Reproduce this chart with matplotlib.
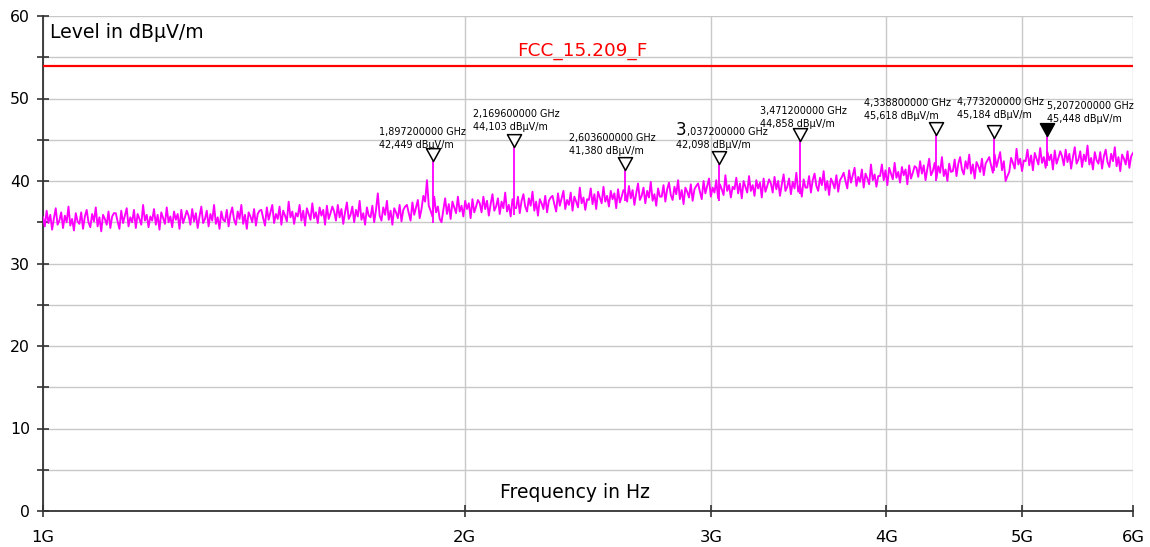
import numpy as np
import matplotlib
matplotlib.use("Agg")
import matplotlib.pyplot as plt
from matplotlib.path import Path
from matplotlib.ticker import FixedLocator, NullLocator, FixedFormatter

plt.rcParams['font.family'] = ['DejaVu Sans']

# ---------------- data ----------------
limit_name = "FCC_15.209_F"
limit_level = 54.0

x_ticks_hz = [1e9, 2e9, 3e9, 4e9, 5e9, 6e9]
x_tick_labels = ["1G", "2G", "3G", "4G", "5G", "6G"]
y_major = [0, 10, 20, 30, 40, 50, 60]
y_minor = [5, 15, 25, 35, 45, 55]

marker_freq_ghz = [1.8972, 2.1696, 2.6036, 3.0372, 3.4712, 4.3388, 4.7732, 5.2072]
marker_level = [42.449, 44.103, 41.380, 42.098, 44.858, 45.618, 45.184, 45.448]
marker_filled = [False, False, False, False, False, False, False, True]

# measured trace (dBuV/m), sweep points evenly spaced on the log frequency axis 1 GHz .. 6 GHz
trace_level = [
    35.6, 34.5, 36.4, 34.9, 35.9, 34.1, 35.5, 36.7, 34.7, 35.2, 36.2, 34.3, 35.8, 35.0, 36.9, 34.6, 35.4, 34.0, 36.1, 35.1,
    34.8, 36.2, 34.2, 35.7, 36.5, 35.0, 34.4, 36.0, 35.1, 36.8, 34.5, 35.6, 33.9, 35.9, 35.4, 34.7, 36.3, 34.3, 35.7, 36.1,
    36.1, 35.1, 34.2, 36.4, 34.9, 35.8, 36.7, 34.5, 35.6, 35.0, 36.5, 34.3, 36.0, 35.4, 34.7, 37.1, 35.2, 35.9, 34.4, 35.7,
    35.2, 36.6, 34.7, 35.9, 34.1, 36.2, 35.5, 34.8, 36.8, 35.0, 35.7, 34.4, 36.3, 35.3, 36.0, 34.2, 36.5, 34.9, 35.6, 36.4,
    35.8, 34.7, 36.6, 35.1, 36.1, 34.3, 35.7, 36.9, 34.9, 35.4, 36.4, 34.5, 36.0, 35.2, 37.1, 34.8, 35.6, 34.2, 36.3, 35.3,
    35.1, 36.5, 34.5, 36.0, 36.8, 35.3, 34.7, 36.3, 35.4, 37.1, 34.8, 35.9, 34.2, 36.2, 35.7, 35.0, 36.6, 34.6, 36.0, 36.4,
    36.5, 35.5, 34.6, 36.8, 35.3, 36.2, 37.1, 34.9, 36.0, 35.4, 36.9, 34.7, 36.4, 35.8, 35.1, 37.5, 35.6, 36.3, 34.8, 36.1,
    35.7, 37.1, 35.2, 36.4, 34.6, 36.7, 36.0, 35.3, 37.3, 35.5, 36.2, 34.9, 36.8, 35.8, 36.5, 34.7, 37.0, 35.4, 36.1, 36.9,
    36.3, 35.2, 37.1, 35.6, 36.6, 34.8, 36.2, 37.4, 35.4, 35.9, 36.9, 35.0, 36.5, 35.7, 37.6, 35.3, 36.1, 34.7, 36.8, 35.8,
    35.6, 37.0, 35.0, 36.5, 38.5, 35.8, 35.2, 36.8, 35.9, 37.6, 35.3, 36.4, 34.7, 36.7, 36.2, 35.5, 37.1, 35.1, 36.5, 36.9,
    37.1, 36.1, 35.2, 37.4, 35.9, 36.8, 37.7, 35.5, 36.6, 38.2, 37.5, 40.1, 37.0, 36.4, 35.7, 38.1, 36.2, 36.9, 35.4, 35.0,
    36.5, 37.9, 36.0, 37.2, 35.4, 37.5, 36.8, 36.1, 38.1, 36.3, 37.0, 35.7, 37.6, 36.6, 37.3, 35.5, 37.8, 36.2, 36.9, 37.7,
    37.3, 36.2, 38.1, 36.6, 37.6, 35.8, 37.2, 38.4, 36.4, 36.9, 37.9, 36.0, 37.5, 36.7, 38.6, 36.3, 37.1, 35.7, 37.8, 36.8,
    36.7, 38.1, 36.1, 37.6, 38.4, 36.9, 36.3, 37.9, 37.0, 38.7, 36.4, 37.5, 35.8, 37.8, 37.3, 36.6, 38.2, 36.2, 37.6, 38.0,
    38.2, 37.2, 36.3, 38.5, 37.0, 37.9, 38.8, 36.6, 37.7, 37.1, 38.6, 36.4, 38.1, 37.5, 36.8, 39.2, 37.3, 38.0, 36.5, 37.8,
    37.7, 39.1, 37.2, 38.4, 36.6, 38.7, 38.0, 37.3, 39.3, 37.5, 38.2, 36.9, 38.8, 37.8, 38.5, 36.7, 39.0, 37.4, 38.1, 38.9,
    38.6, 37.5, 39.4, 37.9, 38.9, 37.1, 38.5, 39.7, 37.7, 38.2, 39.2, 37.3, 38.8, 38.0, 39.9, 37.6, 38.4, 37.0, 39.1, 38.1,
    38.1, 39.5, 37.5, 39.0, 39.8, 38.3, 37.7, 39.3, 38.4, 40.1, 37.8, 38.9, 37.2, 39.2, 38.7, 38.0, 39.6, 37.6, 39.0, 39.4,
    39.7, 38.7, 37.8, 40.0, 38.5, 39.4, 40.3, 38.1, 39.2, 38.6, 40.1, 37.9, 39.6, 39.0, 38.3, 40.7, 38.8, 39.5, 38.0, 39.3,
    39.0, 40.4, 38.5, 39.7, 37.9, 40.0, 39.3, 38.6, 40.6, 38.8, 39.5, 38.2, 40.1, 39.1, 39.8, 38.0, 40.3, 38.7, 39.4, 40.2,
    39.7, 38.6, 40.5, 39.0, 40.0, 38.2, 39.6, 40.8, 38.8, 39.3, 40.3, 38.4, 39.9, 39.1, 41.0, 38.7, 39.5, 38.1, 40.2, 39.2,
    39.2, 40.6, 38.6, 40.1, 40.9, 39.4, 38.8, 40.4, 39.5, 41.2, 38.9, 40.0, 38.3, 40.3, 39.8, 39.1, 40.7, 38.7, 40.1, 40.5,
    41.0, 40.0, 39.1, 41.3, 39.8, 40.7, 41.6, 39.4, 40.5, 39.9, 41.4, 39.2, 40.9, 40.3, 39.6, 42.0, 40.1, 40.8, 39.3, 40.6,
    40.6, 42.0, 40.1, 41.3, 39.5, 41.6, 40.9, 40.2, 42.2, 40.4, 41.1, 39.8, 41.7, 40.7, 41.4, 39.6, 41.9, 40.3, 41.0, 41.8,
    41.6, 40.5, 42.4, 40.9, 41.9, 40.1, 41.5, 42.7, 40.7, 41.2, 42.2, 40.3, 41.8, 41.0, 42.9, 40.6, 41.4, 40.0, 42.1, 41.1,
    41.2, 42.6, 40.6, 42.1, 42.9, 41.4, 40.8, 42.4, 41.5, 43.2, 40.9, 42.0, 40.3, 42.3, 41.8, 41.1, 42.7, 40.7, 42.1, 42.5,
    42.9, 41.9, 41.0, 43.2, 41.7, 42.6, 43.5, 41.3, 42.4, 40.0, 40.6, 41.1, 42.8, 42.2, 41.5, 43.9, 42.0, 42.7, 41.2, 42.5,
    42.4, 43.8, 41.9, 43.1, 41.3, 43.4, 42.7, 42.0, 44.0, 42.2, 42.9, 41.6, 43.5, 42.5, 43.2, 41.4, 43.7, 42.1, 42.8, 43.6,
    43.0, 41.9, 43.8, 42.3, 43.3, 41.5, 42.9, 44.1, 42.1, 42.6, 43.6, 41.7, 43.2, 42.4, 44.3, 42.0, 42.8, 41.4, 43.5, 42.5,
    42.1, 43.5, 41.5, 43.0, 43.8, 42.3, 41.7, 43.3, 42.4, 44.1, 41.8, 42.9, 41.2, 43.2, 42.7, 42.0, 43.6, 41.6, 43.0, 43.4,
]

# ---------------- style / layout ----------------
# label placement per marker: (dx px of left edge, dy px of first-line baseline above tip)
label_dx = [-54, -41, -56, -43, -40, -72, -37, 0]
label_dy = [26, 30, 29, 29, 27, 29, 33, 27]
line_gap = 13

W, H = 1150, 547
fig = plt.figure(figsize=(W / 100, H / 100), dpi=100)
ax = fig.add_axes([43 / W, (H - 511) / H, 1090 / W, 495 / H])

trace_f = np.geomspace(x_ticks_hz[0], x_ticks_hz[-1], len(trace_level))
ax.plot(trace_f, trace_level, color='#ff00ff', lw=1.35, zorder=3)

mf = np.array(marker_freq_ghz) * 1e9
base = np.interp(mf, trace_f, trace_level)
ax.vlines(mf, base - 1.0, marker_level, color='#ff00ff', lw=1.3, zorder=3)

ax.axhline(limit_level, color='#ff0000', lw=1.6, zorder=4)
ax.text((517 - 43) / 1090, (511 - 56) / 495, limit_name, transform=ax.transAxes,
        color='#ff0000', fontsize=13.3, va='baseline', ha='left')

tri = Path([(0, 0), (-0.55, 1), (0.55, 1), (0, 0)],
           [Path.MOVETO, Path.LINETO, Path.LINETO, Path.CLOSEPOLY])
for f, lv, filled, dx, dy in zip(mf, marker_level, marker_filled, label_dx, label_dy):
    ax.plot([f], [lv], marker=tri, ms=18.5, mfc='black' if filled else 'white',
            mec='black', mew=1.1, zorder=5, clip_on=False)
    ftxt = f"{f / 1e9:.9f}".replace('.', ',') + " GHz"
    ltxt = f"{lv:.3f}".replace('.', ',') + " dB\u00b5V/m"
    if abs(f - 3.0372e9) < 1e6:
        ax.annotate(ftxt[0], (f, lv), xytext=(dx, dy), textcoords='offset pixels',
                    fontsize=12, va='baseline', ha='left', zorder=6)
        ax.annotate(ftxt[1:], (f, lv), xytext=(dx + 11, dy), textcoords='offset pixels',
                    fontsize=6.9, va='baseline', ha='left', zorder=6)
    else:
        ax.annotate(ftxt, (f, lv), xytext=(dx, dy), textcoords='offset pixels',
                    fontsize=6.9, va='baseline', ha='left', zorder=6)
    ax.annotate(ltxt, (f, lv), xytext=(dx, dy - line_gap), textcoords='offset pixels',
                fontsize=6.9, va='baseline', ha='left', zorder=6)

ax.set_xscale('log')
ax.set_xlim(x_ticks_hz[0], x_ticks_hz[-1])
ax.set_ylim(y_major[0], y_major[-1])
ax.xaxis.set_major_locator(FixedLocator(x_ticks_hz))
ax.xaxis.set_major_formatter(FixedFormatter(x_tick_labels))
ax.xaxis.set_minor_locator(NullLocator())
ax.yaxis.set_major_locator(FixedLocator(y_major))
ax.yaxis.set_minor_locator(FixedLocator(y_minor))

ax.grid(True, which='both', color='#c8c8c8', lw=1.0, zorder=0)
ax.set_axisbelow(True)
for s in ['top', 'right']:
    ax.spines[s].set_visible(False)
for s in ['left', 'bottom']:
    ax.spines[s].set_color('#333333')
    ax.spines[s].set_linewidth(1.3)

ax.tick_params(axis='both', which='both', direction='inout', color='#333333', width=1.2)
ax.tick_params(axis='both', which='major', length=9)
ax.tick_params(axis='y', which='minor', length=9)
ax.tick_params(axis='y', which='major', labelsize=11.3, pad=5)
ax.tick_params(axis='x', which='major', labelsize=11.8, pad=9.5)

ax.text((50 - 43) / 1090, (511 - 38) / 495, "Level in dB\u00b5V/m", transform=ax.transAxes,
        fontsize=13.6, va='baseline', ha='left')
ax.text((500 - 43) / 1090, (511 - 498) / 495, "Frequency in Hz", transform=ax.transAxes,
        fontsize=13.5, va='baseline', ha='left')

fig.savefig("out.png", dpi=100)
